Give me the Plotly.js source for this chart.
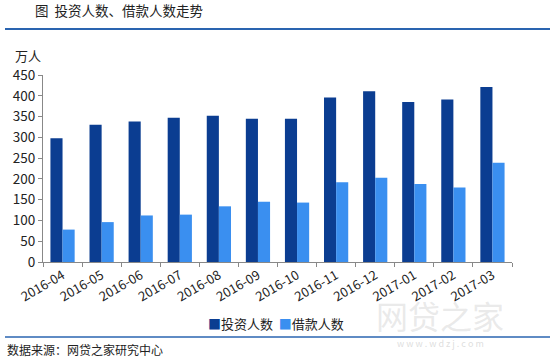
<!DOCTYPE html>
<html>
<head>
<meta charset="utf-8">
<script src="https://cdn.plot.ly/plotly-3.0.1.min.js"></script>
<style>html,body{margin:0;padding:0;background:#fff;}#chart{width:550px;height:357px;}</style>
</head>
<body>
<div id="chart"></div>
<script>
const months = ['2016-04','2016-05','2016-06','2016-07','2016-08','2016-09','2016-10','2016-11','2016-12','2017-01','2017-02','2017-03'];
const investors = [298, 330, 338, 347, 352, 345, 345, 396, 411, 385, 391, 421];
const borrowers = [78, 96, 112, 114, 134, 145, 143, 192, 203, 188, 179, 239];
const seriesNames = ['投资人数', '借款人数'];
const seriesColors = ['#0b3d91', '#3a8ff0'];
const yTicks = [0, 50, 100, 150, 200, 250, 300, 350, 400, 450];

const cjk = '"Noto Sans CJK SC", "Noto Sans", sans-serif';
const L = 43, R = 512, T = 75, B = 262;
const px = x => (x - L) / (R - L);
const py = y => (B - y) / (B - T);

const data = [
  {type: 'bar', name: seriesNames[0], x: months, y: investors, marker: {color: seriesColors[0], line: {width: 0}}},
  {type: 'bar', name: seriesNames[1], x: months, y: borrowers, marker: {color: seriesColors[1], line: {width: 0}}}
];

const legendText = seriesNames.map((n, i) =>
  '<span style="color:' + seriesColors[i] + '">■</span>' + n).join('  ');

const layout = {
  width: 550, height: 357,
  margin: {l: L, r: 550 - R, t: T, b: 357 - B},
  paper_bgcolor: '#fff', plot_bgcolor: '#fff',
  barmode: 'group', bargap: 0.38, bargroupgap: 0,
  font: {family: cjk, color: '#222', size: 12},
  xaxis: {
    type: 'category', tickangle: -30, showline: true, linecolor: '#888', linewidth: 1,
    ticks: 'outside', ticklen: 4, tickcolor: '#888', tickson: 'boundaries',
    tickfont: {family: cjk, size: 13, color: '#222'}, showgrid: false, zeroline: false
  },
  yaxis: {
    range: [0, 450], tickvals: yTicks, showline: true, linecolor: '#888', linewidth: 1,
    ticks: 'outside', ticklen: 4, tickcolor: '#888', showgrid: false, zeroline: false,
    tickfont: {family: cjk, size: 13.5, color: '#222'}
  },
  showlegend: false,
  shapes: [
    {type: 'line', xref: 'paper', yref: 'paper', x0: px(5), x1: px(550), y0: py(29), y1: py(29), line: {color: '#2a64b0', width: 2}},
    {type: 'line', xref: 'paper', yref: 'paper', x0: px(5), x1: px(550), y0: py(337), y1: py(337), line: {color: '#2a64b0', width: 1.5}}
  ],
  annotations: [
    {xref: 'paper', yref: 'paper', x: px(33), y: py(10), xanchor: 'left', yanchor: 'middle', showarrow: false,
     text: '图  投资人数、借款人数走势', font: {family: cjk, size: 13.5, color: '#222'}},
    {xref: 'paper', yref: 'paper', x: px(13), y: py(55), xanchor: 'left', yanchor: 'middle', showarrow: false,
     text: '万人', font: {family: cjk, size: 13, color: '#222'}},
    {xref: 'paper', yref: 'paper', x: px(276), y: py(323), xanchor: 'center', yanchor: 'middle', showarrow: false,
     text: legendText, font: {family: cjk, size: 13, color: '#222'}},
    {xref: 'paper', yref: 'paper', x: px(5), y: py(349), xanchor: 'left', yanchor: 'middle', showarrow: false,
     text: '数据来源：网贷之家研究中心', font: {family: cjk, size: 12, color: '#222'}},
    {xref: 'paper', yref: 'paper', x: px(440), y: py(315), xanchor: 'center', yanchor: 'middle', showarrow: false,
     text: '网贷之家', font: {family: cjk, size: 32, color: 'rgba(200,200,200,0.4)'}},
    {xref: 'paper', yref: 'paper', x: px(440), y: py(343), xanchor: 'center', yanchor: 'middle', showarrow: false,
     text: 'w w w . w d z j . c o m', font: {family: cjk, size: 9, color: 'rgba(200,200,200,0.6)'}}
  ]
};

Plotly.newPlot('chart', data, layout, {displayModeBar: false, staticPlot: true});
</script>
</body>
</html>
